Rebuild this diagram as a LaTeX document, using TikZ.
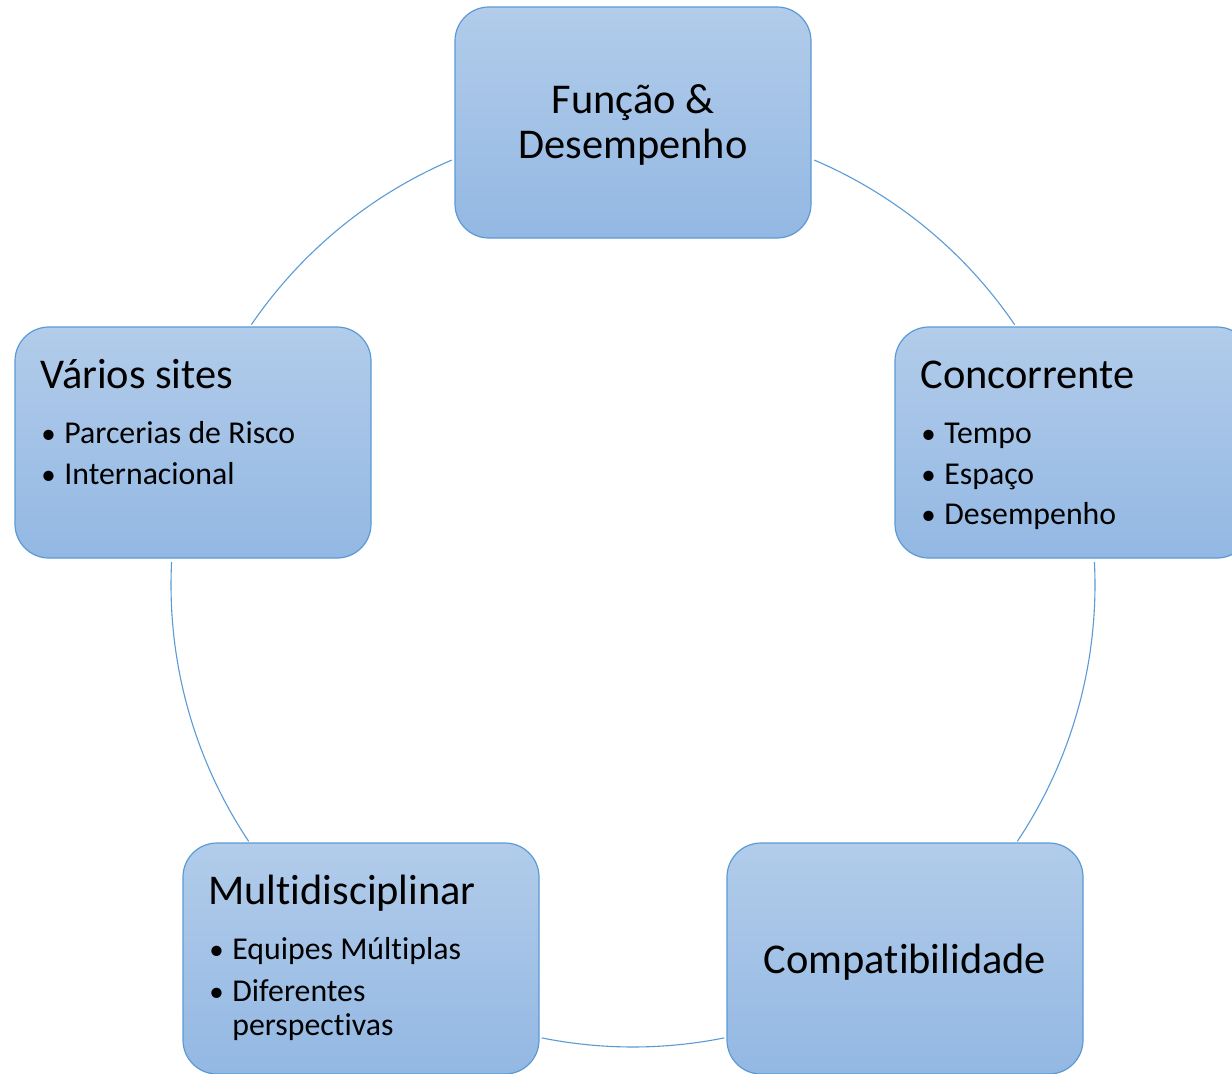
\documentclass[tikz,border=0pt]{standalone}
\usepackage{fontspec}
\setmainfont{Carlito}[Ligatures=CommonOff]
\definecolor{edge}{RGB}{91,155,213}
\definecolor{topc}{RGB}{178,204,234}
\definecolor{botc}{RGB}{147,184,227}
\begin{document}
\begin{tikzpicture}[x=0.5pt,y=-0.5pt,
  box/.style={draw=edge,line width=0.6pt,rounded corners=17pt,top color=topc,bottom color=botc,
    minimum width=178pt,minimum height=115.5pt,inner sep=0pt},
  conn/.style={draw=edge,line width=0.55pt},
  ttl/.style={font=\fontsize{21.2}{24}\selectfont,inner sep=0pt},
  itm/.style={font=\fontsize{15.9}{19}\selectfont,inner sep=0pt,anchor=base west},
  bul/.style={font=\fontsize{14.5}{19}\selectfont,inner sep=0pt,anchor=base west}]
\useasboundingbox (0,0) rectangle (1232,1073);
\clip (0,0) rectangle (1232,1073);
\fill[white] (0,0) rectangle (1232,1073);
\coordinate (c) at (633,585);
% arcs (y axis points down)
\draw[conn] (c) ++(-113.1:462) arc[start angle=-113.1,end angle=-145.7,radius=462];
\draw[conn] (c) ++(-66.9:462) arc[start angle=-66.9,end angle=-34.3,radius=462];
\draw[conn] (c) ++(-2.85:462) arc[start angle=-2.85,end angle=33.7,radius=462];
\draw[conn] (c) ++(78.6:462) arc[start angle=78.6,end angle=101.4,radius=462];
\draw[conn] (c) ++(182.85:462) arc[start angle=182.85,end angle=146.3,radius=462];
% boxes
\node[box] (top) at (633,122.5) {};
\node[box] (left) at (193,442.5) {};
\node[box] (right) at (1073,442.5) {};
\node[box] (bl) at (361,958.5) {};
\node[box] (br) at (905,958.5) {};
% top text
\node[ttl,anchor=base] (t1) at (633,113) {Função \&};
\node[ttl,anchor=base] (t2) at (633,158) {Desempenho};
% left
\node[ttl,anchor=base west] (l0) at (40,388) {Vários sites};
\node[bul] (lb1) at (41,443) {•};
\node[itm] (l1) at (64,443) {Parcerias de Risco};
\node[bul] (lb2) at (41,484) {•};
\node[itm] (l2) at (64,484) {Internacional};
% right
\node[ttl,anchor=base west] (r0) at (920,388) {Concorrente};
\node[bul] (rb1) at (921,443) {•};
\node[itm] (r1) at (944,443) {Tempo};
\node[bul] (rb2) at (921,484) {•};
\node[itm] (r2) at (944,484) {Espaço};
\node[bul] (rb3) at (921,524) {•};
\node[itm] (r3) at (944,524) {Desempenho};
% bottom left
\node[ttl,anchor=base west] (m0) at (208,904) {Multidisciplinar};
\node[bul] (mb1) at (209,959) {•};
\node[itm] (m1) at (232,959) {Equipes Múltiplas};
\node[bul] (mb2) at (209,1001) {•};
\node[itm] (m2) at (232,1001) {Diferentes};
\node[itm] (m3) at (232,1035) {perspectivas};
% bottom right
\node[ttl,anchor=base] (b0) at (905,973) {Compatibilidade};
\end{tikzpicture}
\end{document}
